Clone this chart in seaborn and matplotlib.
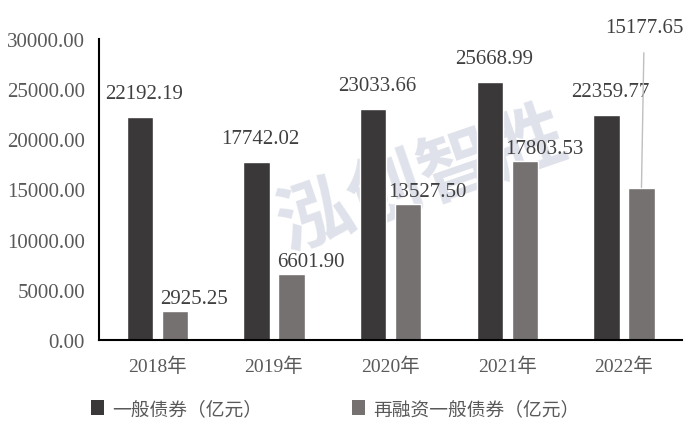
import pandas as pd
import matplotlib.pyplot as plt
import seaborn as sns
from matplotlib.ticker import FuncFormatter, FixedLocator
from matplotlib.patches import Patch

# ======= 数据 =======
years = ['2018年', '2019年', '2020年', '2021年', '2022年']
series_names = ['一般债券（亿元）', '再融资一般债券（亿元）']
general_bond = [22192.19, 17742.02, 23033.66, 25668.99, 22359.77]
refi_bond = [2925.25, 6601.90, 13527.50, 17803.53, 15177.65]
bar_colors = ['#3a3838', '#767171']

df = pd.DataFrame({
    'year': years * 2,
    'series': [series_names[0]] * len(years) + [series_names[1]] * len(years),
    'value': general_bond + refi_bond,
})

# ======= 样式 =======
sns.set_theme(style='white')
plt.rcParams['font.family'] = ['Liberation Serif', 'Noto Sans CJK SC']
plt.rcParams['axes.unicode_minus'] = False

fig = plt.figure(figsize=(6.92, 4.39), dpi=100)
ax = fig.add_axes([0.143, 0.223, 0.843, 0.687])

sns.barplot(data=df, x='year', y='value', hue='series', palette=bar_colors,
            width=0.6, gap=0.25, legend=False, ax=ax, saturation=1, errorbar=None)
for bar in ax.patches:
    bar.set_zorder(2)

# 水印（在柱子后面）
ax.text(0.609, 0.590, '泓创智胜', fontsize=54, fontweight='bold', color='#dfe2ea',
        rotation=19, ha='center', va='center', zorder=0.5, clip_on=False,
        transform=fig.transFigure, family=['Noto Sans CJK SC'])

ax.set_xlim(-0.5, 4.5)
ax.set_ylim(0, 30000)
ax.set_yticks(range(0, 30001, 5000))
ax.yaxis.set_major_formatter(FuncFormatter(lambda v, p: f'{v:.2f}'))
ax.set_xlabel('')
ax.set_ylabel('')

# x轴刻度：标签在中间，刻度线在分隔处
ax.xaxis.set_minor_locator(FixedLocator([i - 0.5 for i in range(len(years) + 1)]))
ax.tick_params(axis='x', which='major', length=0, pad=12, labelsize=14, labelcolor='#595959')
ax.tick_params(axis='x', which='minor', length=8, width=1.5, color='black', direction='out')
ax.tick_params(axis='y', which='major', length=5, width=1.5, color='black', direction='out',
               labelsize=15, labelcolor='#595959', pad=5)

for s in ['top', 'right']:
    ax.spines[s].set_visible(False)
for s in ['left', 'bottom']:
    ax.spines[s].set_color('black')
    ax.spines[s].set_linewidth(1.5)
    ax.spines[s].set_zorder(3)

# 数据标签
for i, v in enumerate(general_bond):
    ax.annotate(f'{v:.2f}', (i - 0.15, v), xytext=(3, 10), textcoords='offset points',
                ha='center', va='bottom', fontsize=15, color='#404040', zorder=4)
for i, v in enumerate(refi_bond):
    if i == len(refi_bond) - 1:
        ax.annotate(f'{v:.2f}', xy=(i + 0.15, v), xytext=(i + 0.174, 31100),
                    textcoords='data', ha='center', va='center', fontsize=15,
                    color='#404040', annotation_clip=False, zorder=4,
                    arrowprops=dict(arrowstyle='-', color='#bfbfbf', lw=1,
                                    shrinkA=9, shrinkB=0))
    else:
        ax.annotate(f'{v:.2f}', (i + 0.15, v), xytext=(14, 2), textcoords='offset points',
                    ha='center', va='bottom', fontsize=15, color='#404040', zorder=4)

# 图例
handles = [Patch(facecolor=c, edgecolor='none') for c in bar_colors]
fig.legend(handles, series_names, loc='center', bbox_to_anchor=(0.484, 0.066), ncol=2,
           frameon=False, fontsize=13.5, handlelength=0.7, handleheight=0.9,
           handletextpad=0.43, columnspacing=4.8, labelcolor='#595959')

fig.savefig('out.png', dpi=100)
